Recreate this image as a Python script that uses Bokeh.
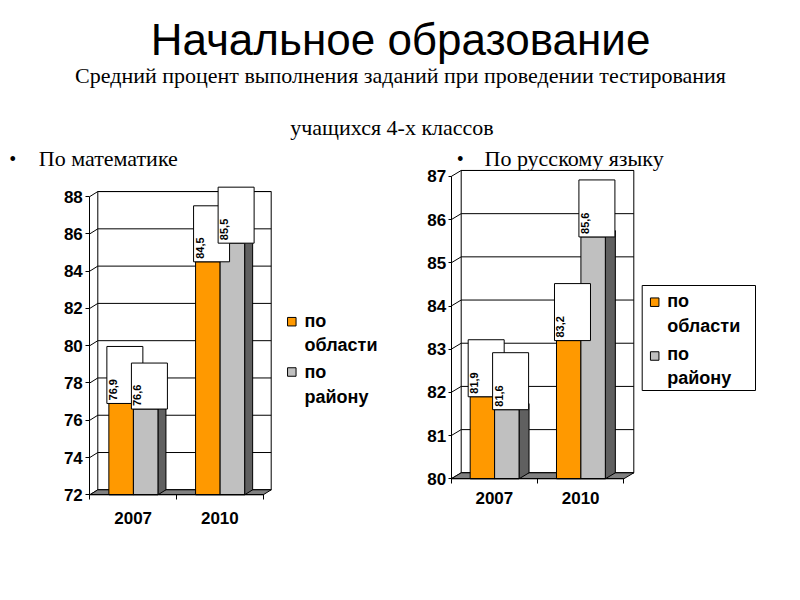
import math
from bokeh.plotting import figure
from bokeh.models import Range1d, FixedTicker, LinearAxis
from bokeh.core.properties import value
from bokeh.embed import file_html
from bokeh.resources import INLINE

# ---------------- data ----------------
years = ["2007", "2010"]
series = ["по области", "по району"]
math_region = [76.9, 84.5]
math_district = [76.6, 85.5]
rus_region = [81.9, 83.2]
rus_district = [81.6, 85.6]
math_ticks = [72, 74, 76, 78, 80, 82, 84, 86, 88]
rus_ticks = [80, 81, 82, 83, 84, 85, 86, 87]

title_text = "Начальное образование"
subtitle_1 = "Средний процент выполнения заданий при проведении тестирования"
subtitle_2 = "учащихся 4-х классов"
left_caption = "По математике"
right_caption = "По русскому языку"

ORANGE = "#FF9900"
GRAY = "#C0C0C0"
SIDE_G = "#606060"
SIDE_O = "#B36B00"
TOP_O = "#FFB84D"
TOP_G = "#DCDCDC"
FLOOR = "#808080"
SANS = "Liberation Sans"
SERIF = "Liberation Serif"

W, H = 784, 584


def fmt(v):
    return ("%.1f" % v).replace(".", ",")


# chart geometry (screen px inside the figure)
charts = {
    "m": dict(va=math_region, vb=math_district, ticks=math_ticks, ax_x=89.3, ax_y=494.3,
              pxu=18.64, slot=86.7, dxp=8, dyp=5, box_a=[57, 56], box_b=[46, 56],
              xstand=12, ystand=3, ytick=4),
    "r": dict(va=rus_region, vb=rus_district, ticks=rus_ticks, ax_x=450.7, ax_y=478.3,
              pxu=43.19, slot=86.3, dxp=10, dyp=6, box_a=[57, 57], box_b=[57, 57],
              xstand=8, ystand=2, ytick=3),
}

xr, yr = {}, {}
for nm, c in charts.items():
    xs = -c["ax_x"] / c["slot"]
    xr[nm + "x"] = Range1d(xs, xs + W / c["slot"])
    ys = c["ticks"][0] - (H - c["ax_y"]) / c["pxu"]
    yr[nm + "y"] = Range1d(ys, ys + H / c["pxu"])

p = figure(width=W, height=H, output_backend="svg", toolbar_location=None,
           x_range=Range1d(0, W), y_range=Range1d(H, 0),
           x_axis_location=None, y_axis_location=None, min_border=0)
p.extra_x_ranges = xr
p.extra_y_ranges = yr
p.outline_line_color = None
p.grid.visible = False
p.xgrid.grid_line_color = None
p.ygrid.grid_line_color = None
p.background_fill_color = "white"
p.border_fill_color = "white"


def draw_chart(nm, c):
    kw = dict(x_range_name=nm + "x", y_range_name=nm + "y")
    va, vb, ticks = c["va"], c["vb"], c["ticks"]
    pxu, slot = c["pxu"], c["slot"]
    y0, y1 = ticks[0], ticks[-1]
    DX = c["dxp"] / slot
    DY = c["dyp"] / pxu
    n = len(years)

    # back wall
    p.patch([DX, n + DX, n + DX, DX], [y0 + DY, y0 + DY, y1 + DY, y1 + DY],
            fill_color="white", line_color="black", line_width=1, **kw)
    p.segment(x0=[DX] * len(ticks), y0=[t + DY for t in ticks],
              x1=[n + DX] * len(ticks), y1=[t + DY for t in ticks],
              line_color="black", line_width=1, **kw)
    p.segment(x0=[0] * len(ticks), y0=ticks,
              x1=[DX] * len(ticks), y1=[t + DY for t in ticks],
              line_color="black", line_width=1, **kw)
    # floor
    p.patch([0, n, n + DX, DX], [y0, y0, y0 + DY, y0 + DY],
            fill_color=FLOOR, line_color="black", line_width=1, **kw)

    OFF = 0.22
    BW = 0.283
    lefts_all = []
    for k, (vals, front, side, top) in enumerate(
            [(va, ORANGE, SIDE_O, TOP_O), (vb, GRAY, SIDE_G, TOP_G)]):
        lefts = [i + OFF + k * BW for i in range(n)]
        rights = [l + BW for l in lefts]
        lefts_all.append(lefts)
        p.patches([[l, r, r + DX, l + DX] for l, r in zip(lefts, rights)],
                  [[v, v, v + DY, v + DY] for v in vals],
                  fill_color=top, line_color="black", line_width=1, **kw)
        p.patches([[r, r + DX, r + DX, r] for r in rights],
                  [[y0, y0 + DY, v + DY, v] for v in vals],
                  fill_color=side, line_color="black", line_width=1, **kw)
        p.quad(left=lefts, right=rights, bottom=[y0] * n, top=vals,
               fill_color=front, line_color="black", line_width=1, **kw)

    # data label boxes
    bw_box = 36 / slot
    for k, (vals, hs) in enumerate([(va, c["box_a"]), (vb, c["box_b"])]):
        bl_ = [l - 2 / slot for l in lefts_all[k]]
        p.quad(left=bl_, right=[b + bw_box for b in bl_],
               bottom=vals, top=[v + hh / pxu for v, hh in zip(vals, hs)],
               fill_color="white", line_color="black", line_width=1, **kw)
        p.text(x=[b + 2 / slot for b in bl_], y=[v + 3 / pxu for v in vals],
               text=[fmt(v) for v in vals], angle=math.pi / 2,
               text_align="left", text_baseline="top",
               text_font=value(SANS), text_font_style="bold",
               text_font_size="11px", text_color="black", **kw)

    # axes
    ya = LinearAxis(fixed_location=0, ticker=FixedTicker(ticks=ticks), bounds=(y0, y1), **kw)
    ya.major_tick_out = c["ytick"]
    ya.major_tick_in = 0
    ya.minor_tick_out = 0
    ya.minor_tick_in = 0
    ya.major_label_standoff = c["ystand"]
    ya.axis_line_color = "black"
    ya.major_label_text_font = SANS
    ya.major_label_text_font_style = "bold"
    ya.major_label_text_font_size = "17px"
    ya.major_label_text_color = "black"
    p.add_layout(ya, "left")

    xa = LinearAxis(fixed_location=y0,
                    ticker=FixedTicker(ticks=[i + 0.5 for i in range(n)],
                                       minor_ticks=list(range(n + 1))),
                    bounds=(0, n), **kw)
    xa.major_label_overrides = {i + 0.5: years[i] for i in range(n)}
    xa.major_tick_out = 0
    xa.major_tick_in = 0
    xa.minor_tick_out = 5
    xa.minor_tick_in = 0
    xa.major_label_standoff = c["xstand"]
    xa.axis_line_color = "black"
    xa.major_label_text_font = SANS
    xa.major_label_text_font_style = "bold"
    xa.major_label_text_font_size = "17px"
    xa.major_label_text_color = "black"
    p.add_layout(xa, "below")


for nm, c in charts.items():
    draw_chart(nm, c)

# ---------------- legends (screen px) ----------------
p.quad(left=[641.7], right=[755], top=[285], bottom=[390],
       fill_color="white", line_color="black", line_width=1, level="underlay")
leg_sq_x = [291.3, 291.3, 654.2, 654.2]
leg_sq_y = [321.2, 371.5, 301.7, 355.5]
leg_colors = [ORANGE, GRAY, ORANGE, GRAY]
p.scatter(x=leg_sq_x, y=leg_sq_y, marker="square", size=8.5,
          fill_color=leg_colors, line_color="black", line_width=1)
leg_lines = []
for s in series:
    leg_lines.extend(s.split(" "))
p.text(x=[304] * 4 + [666.7] * 4,
       y=[320, 344, 371, 396, 300, 325, 353, 377.5],
       text=leg_lines * 2, text_align="left", text_baseline="alphabetic",
       text_font=value(SANS), text_font_style="bold", text_font_size="18px",
       text_color="black")

# ---------------- header texts ----------------
p.text(x=[400], y=[38.5], text=[title_text], text_align="center", text_baseline="alphabetic",
       text_font=value(SANS), text_font_size="44px", text_color="black")
p.text(x=[400], y=[74.7], text=[subtitle_1], text_align="center", text_baseline="alphabetic",
       text_font=value(SERIF), text_font_size="22px", text_color="black")
p.text(x=[391.5], y=[126.5], text=[subtitle_2], text_align="center", text_baseline="alphabetic",
       text_font=value(SERIF), text_font_size="22px", text_color="black")
p.text(x=[12.2, 459.7], y=[158, 158], text=["•", "•"], text_align="center",
       text_baseline="alphabetic", text_font=value(SERIF), text_font_size="20px",
       text_color="black")
p.text(x=[38.3, 484], y=[158, 158], text=[left_caption, right_caption], text_align="left",
       text_baseline="alphabetic", text_font=value(SERIF), text_font_size="22px",
       text_color="black")

open("out.html", "w").write(file_html(p, INLINE))
